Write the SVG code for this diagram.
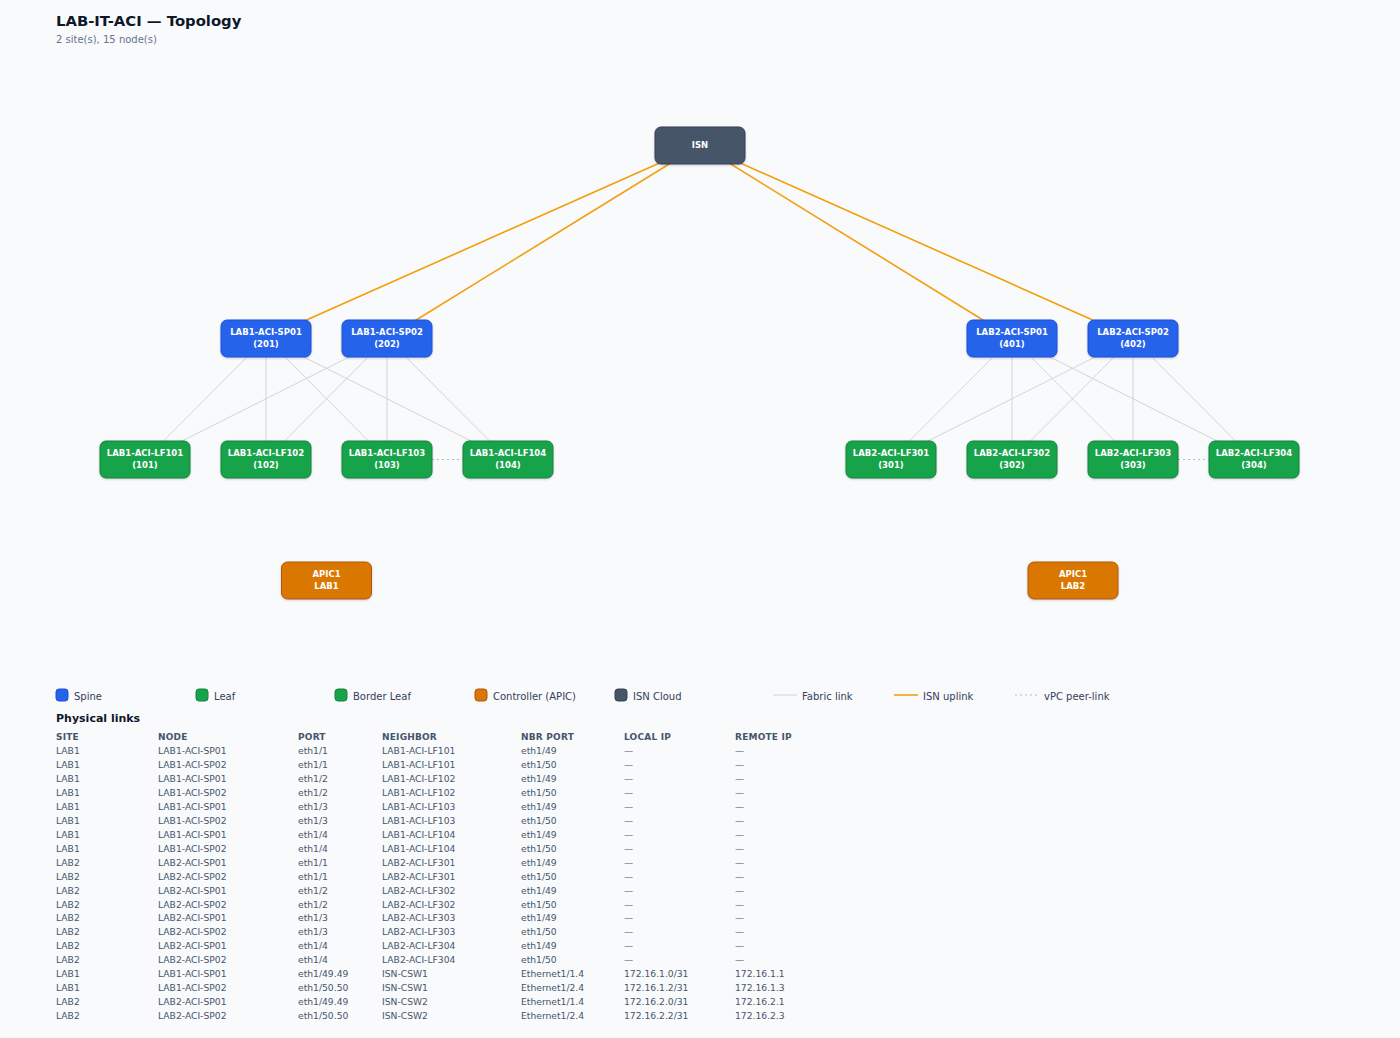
<svg xmlns="http://www.w3.org/2000/svg" width="1400" height="1038" viewBox="0 0 1400 1038">
<defs>
<style>
text{font-family:"DejaVu Sans","Liberation Sans",sans-serif}
.title{font-size:14.8px;font-weight:bold;fill:#0f172a}
.sub{font-size:10px;fill:#64748b}
.nl{font-size:8.5px;font-weight:bold;fill:#ffffff;text-anchor:middle}
.spine{fill:#2563eb;stroke:#1d4ed8}
.leaf{fill:#16a34a;stroke:#15803d}
.apic{fill:#d97706;stroke:#b45309}
.isn{fill:#475569;stroke:#334155}
.node rect{stroke-width:1}
.fab{stroke:#d4d4d8;stroke-width:1;fill:none}
.up{stroke:#f59e0b;stroke-width:1.6;fill:none}
.vpc{stroke:#b6bcc6;stroke-width:1.2;stroke-dasharray:2 3;fill:none}
.lg{font-size:10px;fill:#334155}
.h2{font-size:11px;font-weight:bold;fill:#0f172a}
.th{font-size:9px;font-weight:bold;fill:#475569;letter-spacing:0.2px}
.td{font-size:9.2px;fill:#475569}
</style>
<filter id="sh" x="-20%" y="-20%" width="140%" height="160%">
<feDropShadow dx="0" dy="1" stdDeviation="1.2" flood-color="#0f172a" flood-opacity="0.18"/>
</filter>
</defs>
<rect x="0" y="0" width="1400" height="1038" fill="#f8fafc"/>
<text class="title" x="56" y="26">LAB-IT-ACI — Topology</text>
<text class="sub" x="56" y="43">2 site(s), 15 node(s)</text>

<g id="connectors">
<line class="fab" x1="266" y1="338" x2="145" y2="459.5"/>
<line class="fab" x1="266" y1="338" x2="266" y2="459.5"/>
<line class="fab" x1="266" y1="338" x2="387" y2="459.5"/>
<line class="fab" x1="266" y1="338" x2="508" y2="459.5"/>
<line class="fab" x1="387" y1="338" x2="145" y2="459.5"/>
<line class="fab" x1="387" y1="338" x2="266" y2="459.5"/>
<line class="fab" x1="387" y1="338" x2="387" y2="459.5"/>
<line class="fab" x1="387" y1="338" x2="508" y2="459.5"/>
<line class="fab" x1="1012" y1="338" x2="891" y2="459.5"/>
<line class="fab" x1="1012" y1="338" x2="1012" y2="459.5"/>
<line class="fab" x1="1012" y1="338" x2="1133" y2="459.5"/>
<line class="fab" x1="1012" y1="338" x2="1254" y2="459.5"/>
<line class="fab" x1="1133" y1="338" x2="891" y2="459.5"/>
<line class="fab" x1="1133" y1="338" x2="1012" y2="459.5"/>
<line class="fab" x1="1133" y1="338" x2="1133" y2="459.5"/>
<line class="fab" x1="1133" y1="338" x2="1254" y2="459.5"/>
<line class="up" x1="700" y1="145" x2="266" y2="338"/>
<line class="up" x1="700" y1="145" x2="387" y2="338"/>
<line class="up" x1="700" y1="145" x2="1012" y2="338"/>
<line class="up" x1="700" y1="145" x2="1133" y2="338"/>
<line class="vpc" x1="432" y1="459.5" x2="463" y2="459.5"/>
<line class="vpc" x1="1178" y1="459.5" x2="1209" y2="459.5"/>
</g>

<g id="ISN" class="node"><rect class="isn" x="655" y="127" width="90" height="37" rx="6" filter="url(#sh)"/><text class="nl" x="700" y="148">ISN</text></g>

<g id="LAB1-ACI-SP01" class="node"><rect class="spine" x="221" y="320" width="90" height="37" rx="6" filter="url(#sh)"/><text class="nl" x="266" y="335">LAB1-ACI-SP01</text><text class="nl" x="266" y="347">(201)</text></g>
<g id="LAB1-ACI-SP02" class="node"><rect class="spine" x="342" y="320" width="90" height="37" rx="6" filter="url(#sh)"/><text class="nl" x="387" y="335">LAB1-ACI-SP02</text><text class="nl" x="387" y="347">(202)</text></g>
<g id="LAB2-ACI-SP01" class="node"><rect class="spine" x="967" y="320" width="90" height="37" rx="6" filter="url(#sh)"/><text class="nl" x="1012" y="335">LAB2-ACI-SP01</text><text class="nl" x="1012" y="347">(401)</text></g>
<g id="LAB2-ACI-SP02" class="node"><rect class="spine" x="1088" y="320" width="90" height="37" rx="6" filter="url(#sh)"/><text class="nl" x="1133" y="335">LAB2-ACI-SP02</text><text class="nl" x="1133" y="347">(402)</text></g>

<g id="LAB1-ACI-LF101" class="node"><rect class="leaf" x="100" y="441" width="90" height="37" rx="6" filter="url(#sh)"/><text class="nl" x="145" y="456">LAB1-ACI-LF101</text><text class="nl" x="145" y="468">(101)</text></g>
<g id="LAB1-ACI-LF102" class="node"><rect class="leaf" x="221" y="441" width="90" height="37" rx="6" filter="url(#sh)"/><text class="nl" x="266" y="456">LAB1-ACI-LF102</text><text class="nl" x="266" y="468">(102)</text></g>
<g id="LAB1-ACI-LF103" class="node"><rect class="leaf" x="342" y="441" width="90" height="37" rx="6" filter="url(#sh)"/><text class="nl" x="387" y="456">LAB1-ACI-LF103</text><text class="nl" x="387" y="468">(103)</text></g>
<g id="LAB1-ACI-LF104" class="node"><rect class="leaf" x="463" y="441" width="90" height="37" rx="6" filter="url(#sh)"/><text class="nl" x="508" y="456">LAB1-ACI-LF104</text><text class="nl" x="508" y="468">(104)</text></g>
<g id="LAB2-ACI-LF301" class="node"><rect class="leaf" x="846" y="441" width="90" height="37" rx="6" filter="url(#sh)"/><text class="nl" x="891" y="456">LAB2-ACI-LF301</text><text class="nl" x="891" y="468">(301)</text></g>
<g id="LAB2-ACI-LF302" class="node"><rect class="leaf" x="967" y="441" width="90" height="37" rx="6" filter="url(#sh)"/><text class="nl" x="1012" y="456">LAB2-ACI-LF302</text><text class="nl" x="1012" y="468">(302)</text></g>
<g id="LAB2-ACI-LF303" class="node"><rect class="leaf" x="1088" y="441" width="90" height="37" rx="6" filter="url(#sh)"/><text class="nl" x="1133" y="456">LAB2-ACI-LF303</text><text class="nl" x="1133" y="468">(303)</text></g>
<g id="LAB2-ACI-LF304" class="node"><rect class="leaf" x="1209" y="441" width="90" height="37" rx="6" filter="url(#sh)"/><text class="nl" x="1254" y="456">LAB2-ACI-LF304</text><text class="nl" x="1254" y="468">(304)</text></g>

<g id="APIC1-LAB1" class="node"><rect class="apic" x="281.500" y="562" width="90" height="37" rx="6" filter="url(#sh)"/><text class="nl" x="326.500" y="577">APIC1</text><text class="nl" x="326.500" y="589">LAB1</text></g>
<g id="APIC1-LAB2" class="node"><rect class="apic" x="1028" y="562" width="90" height="37" rx="6" filter="url(#sh)"/><text class="nl" x="1073" y="577">APIC1</text><text class="nl" x="1073" y="589">LAB2</text></g>

<g id="legend">
<rect class="spine" x="56" y="689" width="12" height="12" rx="3"/><text class="lg" x="74" y="699.5">Spine</text>
<rect class="leaf" x="196" y="689" width="12" height="12" rx="3"/><text class="lg" x="214" y="699.5">Leaf</text>
<rect class="leaf" x="335" y="689" width="12" height="12" rx="3"/><text class="lg" x="353" y="699.5">Border Leaf</text>
<rect class="apic" x="475" y="689" width="12" height="12" rx="3"/><text class="lg" x="493" y="699.5">Controller (APIC)</text>
<rect class="isn" x="615" y="689" width="12" height="12" rx="3"/><text class="lg" x="633" y="699.5">ISN Cloud</text>
<line class="fab" x1="773" y1="695" x2="797" y2="695"/><text class="lg" x="802" y="699.5">Fabric link</text>
<line class="up" x1="894" y1="695" x2="918" y2="695"/><text class="lg" x="923" y="699.5">ISN uplink</text>
<line class="vpc" x1="1015" y1="695" x2="1039" y2="695"/><text class="lg" x="1044" y="699.5">vPC peer-link</text>
</g>

<g id="table">
<text class="h2" x="56" y="722">Physical links</text>
<text class="th" y="740"><tspan x="56">SITE</tspan><tspan x="158">NODE</tspan><tspan x="298">PORT</tspan><tspan x="382">NEIGHBOR</tspan><tspan x="521">NBR PORT</tspan><tspan x="624">LOCAL IP</tspan><tspan x="735">REMOTE IP</tspan></text>
<text class="td" y="754"><tspan x="56">LAB1</tspan><tspan x="158">LAB1-ACI-SP01</tspan><tspan x="298">eth1/1</tspan><tspan x="382">LAB1-ACI-LF101</tspan><tspan x="521">eth1/49</tspan><tspan x="624">—</tspan><tspan x="735">—</tspan></text>
<text class="td" y="768"><tspan x="56">LAB1</tspan><tspan x="158">LAB1-ACI-SP02</tspan><tspan x="298">eth1/1</tspan><tspan x="382">LAB1-ACI-LF101</tspan><tspan x="521">eth1/50</tspan><tspan x="624">—</tspan><tspan x="735">—</tspan></text>
<text class="td" y="781.9"><tspan x="56">LAB1</tspan><tspan x="158">LAB1-ACI-SP01</tspan><tspan x="298">eth1/2</tspan><tspan x="382">LAB1-ACI-LF102</tspan><tspan x="521">eth1/49</tspan><tspan x="624">—</tspan><tspan x="735">—</tspan></text>
<text class="td" y="795.9"><tspan x="56">LAB1</tspan><tspan x="158">LAB1-ACI-SP02</tspan><tspan x="298">eth1/2</tspan><tspan x="382">LAB1-ACI-LF102</tspan><tspan x="521">eth1/50</tspan><tspan x="624">—</tspan><tspan x="735">—</tspan></text>
<text class="td" y="809.8"><tspan x="56">LAB1</tspan><tspan x="158">LAB1-ACI-SP01</tspan><tspan x="298">eth1/3</tspan><tspan x="382">LAB1-ACI-LF103</tspan><tspan x="521">eth1/49</tspan><tspan x="624">—</tspan><tspan x="735">—</tspan></text>
<text class="td" y="823.8"><tspan x="56">LAB1</tspan><tspan x="158">LAB1-ACI-SP02</tspan><tspan x="298">eth1/3</tspan><tspan x="382">LAB1-ACI-LF103</tspan><tspan x="521">eth1/50</tspan><tspan x="624">—</tspan><tspan x="735">—</tspan></text>
<text class="td" y="837.7"><tspan x="56">LAB1</tspan><tspan x="158">LAB1-ACI-SP01</tspan><tspan x="298">eth1/4</tspan><tspan x="382">LAB1-ACI-LF104</tspan><tspan x="521">eth1/49</tspan><tspan x="624">—</tspan><tspan x="735">—</tspan></text>
<text class="td" y="851.7"><tspan x="56">LAB1</tspan><tspan x="158">LAB1-ACI-SP02</tspan><tspan x="298">eth1/4</tspan><tspan x="382">LAB1-ACI-LF104</tspan><tspan x="521">eth1/50</tspan><tspan x="624">—</tspan><tspan x="735">—</tspan></text>
<text class="td" y="865.6"><tspan x="56">LAB2</tspan><tspan x="158">LAB2-ACI-SP01</tspan><tspan x="298">eth1/1</tspan><tspan x="382">LAB2-ACI-LF301</tspan><tspan x="521">eth1/49</tspan><tspan x="624">—</tspan><tspan x="735">—</tspan></text>
<text class="td" y="879.6"><tspan x="56">LAB2</tspan><tspan x="158">LAB2-ACI-SP02</tspan><tspan x="298">eth1/1</tspan><tspan x="382">LAB2-ACI-LF301</tspan><tspan x="521">eth1/50</tspan><tspan x="624">—</tspan><tspan x="735">—</tspan></text>
<text class="td" y="893.5"><tspan x="56">LAB2</tspan><tspan x="158">LAB2-ACI-SP01</tspan><tspan x="298">eth1/2</tspan><tspan x="382">LAB2-ACI-LF302</tspan><tspan x="521">eth1/49</tspan><tspan x="624">—</tspan><tspan x="735">—</tspan></text>
<text class="td" y="907.5"><tspan x="56">LAB2</tspan><tspan x="158">LAB2-ACI-SP02</tspan><tspan x="298">eth1/2</tspan><tspan x="382">LAB2-ACI-LF302</tspan><tspan x="521">eth1/50</tspan><tspan x="624">—</tspan><tspan x="735">—</tspan></text>
<text class="td" y="921.4"><tspan x="56">LAB2</tspan><tspan x="158">LAB2-ACI-SP01</tspan><tspan x="298">eth1/3</tspan><tspan x="382">LAB2-ACI-LF303</tspan><tspan x="521">eth1/49</tspan><tspan x="624">—</tspan><tspan x="735">—</tspan></text>
<text class="td" y="935.4"><tspan x="56">LAB2</tspan><tspan x="158">LAB2-ACI-SP02</tspan><tspan x="298">eth1/3</tspan><tspan x="382">LAB2-ACI-LF303</tspan><tspan x="521">eth1/50</tspan><tspan x="624">—</tspan><tspan x="735">—</tspan></text>
<text class="td" y="949.3"><tspan x="56">LAB2</tspan><tspan x="158">LAB2-ACI-SP01</tspan><tspan x="298">eth1/4</tspan><tspan x="382">LAB2-ACI-LF304</tspan><tspan x="521">eth1/49</tspan><tspan x="624">—</tspan><tspan x="735">—</tspan></text>
<text class="td" y="963.3"><tspan x="56">LAB2</tspan><tspan x="158">LAB2-ACI-SP02</tspan><tspan x="298">eth1/4</tspan><tspan x="382">LAB2-ACI-LF304</tspan><tspan x="521">eth1/50</tspan><tspan x="624">—</tspan><tspan x="735">—</tspan></text>
<text class="td" y="977.2"><tspan x="56">LAB1</tspan><tspan x="158">LAB1-ACI-SP01</tspan><tspan x="298">eth1/49.49</tspan><tspan x="382">ISN-CSW1</tspan><tspan x="521">Ethernet1/1.4</tspan><tspan x="624">172.16.1.0/31</tspan><tspan x="735">172.16.1.1</tspan></text>
<text class="td" y="991.2"><tspan x="56">LAB1</tspan><tspan x="158">LAB1-ACI-SP02</tspan><tspan x="298">eth1/50.50</tspan><tspan x="382">ISN-CSW1</tspan><tspan x="521">Ethernet1/2.4</tspan><tspan x="624">172.16.1.2/31</tspan><tspan x="735">172.16.1.3</tspan></text>
<text class="td" y="1005.1"><tspan x="56">LAB2</tspan><tspan x="158">LAB2-ACI-SP01</tspan><tspan x="298">eth1/49.49</tspan><tspan x="382">ISN-CSW2</tspan><tspan x="521">Ethernet1/1.4</tspan><tspan x="624">172.16.2.0/31</tspan><tspan x="735">172.16.2.1</tspan></text>
<text class="td" y="1019.1"><tspan x="56">LAB2</tspan><tspan x="158">LAB2-ACI-SP02</tspan><tspan x="298">eth1/50.50</tspan><tspan x="382">ISN-CSW2</tspan><tspan x="521">Ethernet1/2.4</tspan><tspan x="624">172.16.2.2/31</tspan><tspan x="735">172.16.2.3</tspan></text>
</g>
</svg>
